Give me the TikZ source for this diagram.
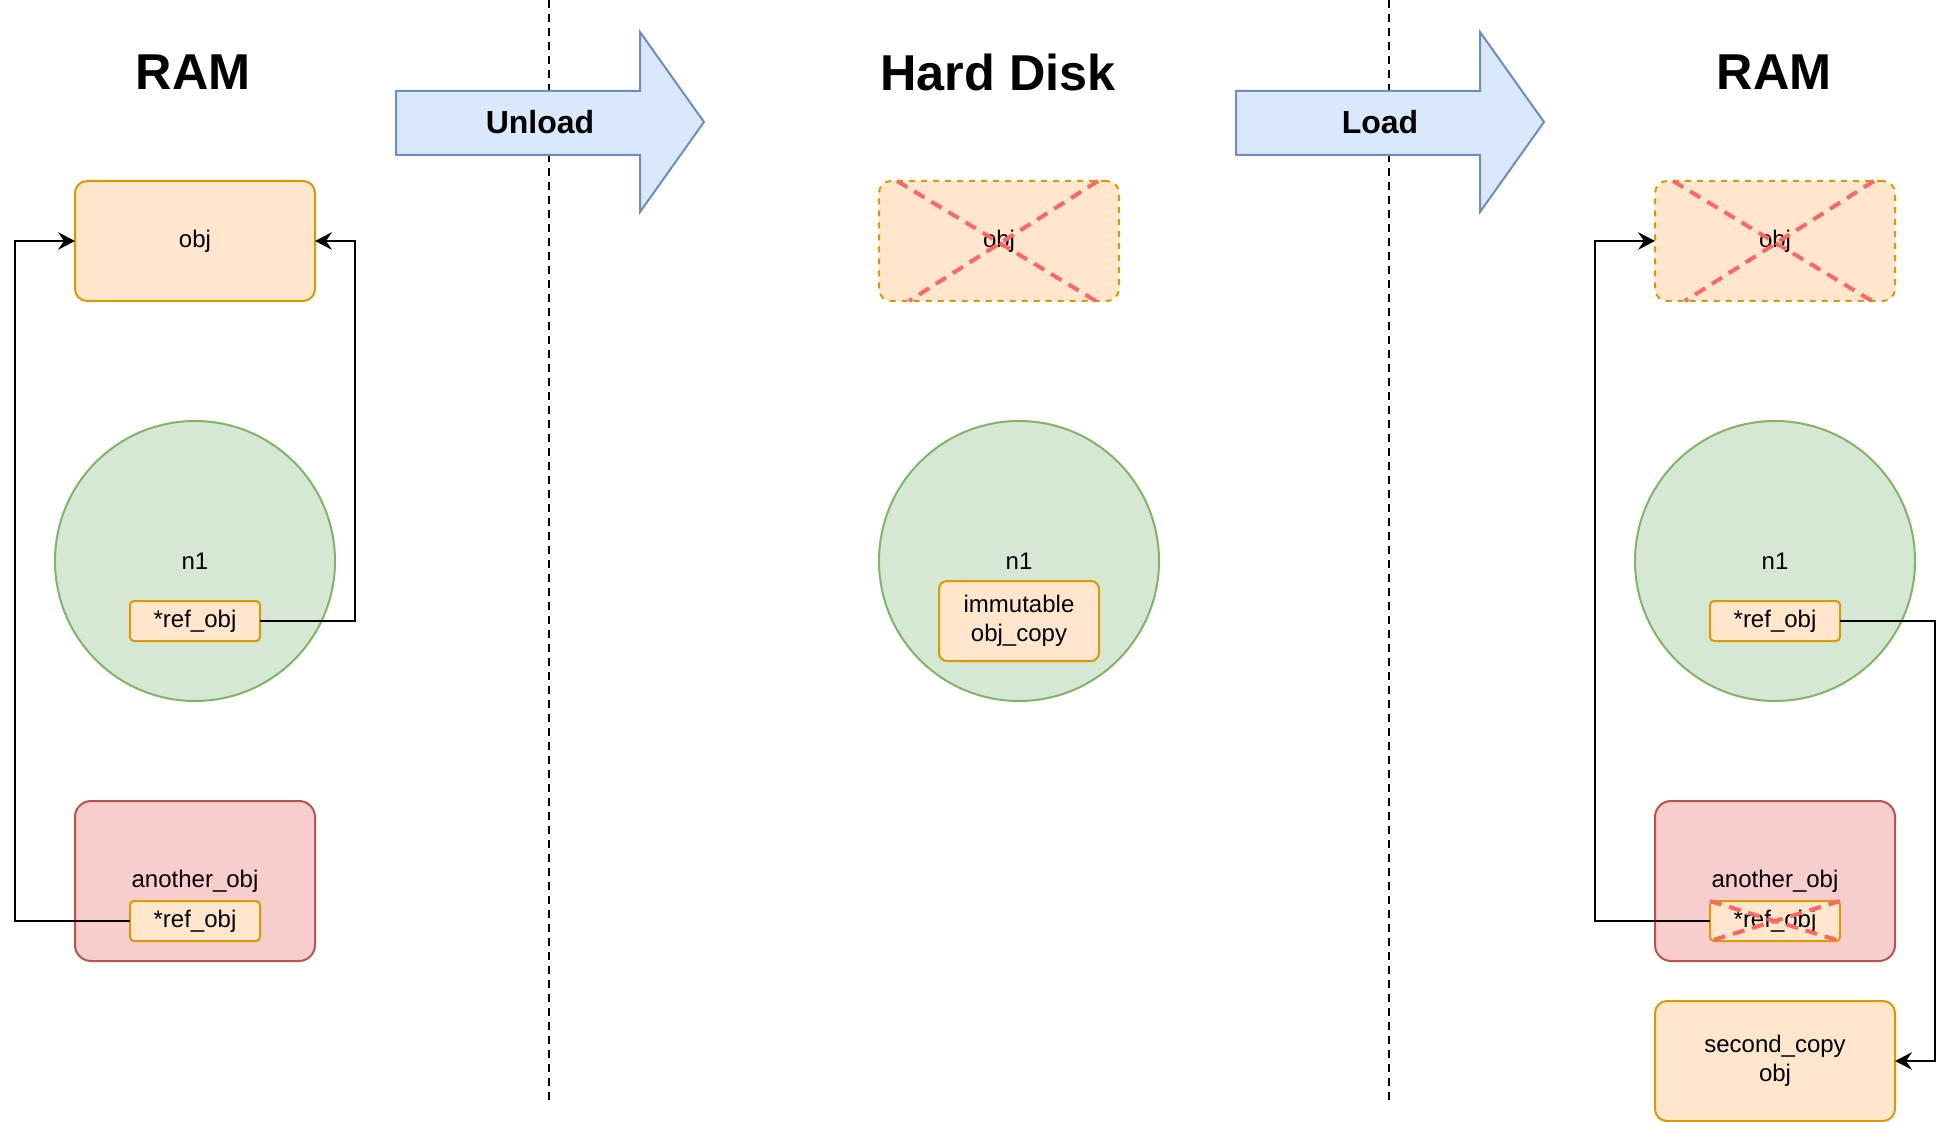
\documentclass[tikz,border=0pt]{standalone}
\usepackage{fontspec}
\setmainfont{Liberation Sans}
\usetikzlibrary{calc,arrows.meta}
\definecolor{ofill}{HTML}{FFE6CC}
\definecolor{ostroke}{HTML}{D79B00}
\definecolor{gfill}{HTML}{D5E8D4}
\definecolor{gstroke}{HTML}{82B366}
\definecolor{rfill}{HTML}{F8CECC}
\definecolor{rstroke}{HTML}{B85450}
\definecolor{bfill}{HTML}{DAE8FC}
\definecolor{bstroke}{HTML}{6C8EBF}
\definecolor{xred}{HTML}{FF6666}
\begin{document}
\begin{tikzpicture}[x=1pt,y=-1pt,
  lbl/.style={font=\fontsize{12}{14.4}\selectfont},
  box/.style={draw, line width=1pt, inner sep=0pt, outer sep=0pt, align=center, lbl},
  obox/.style={box, draw=ostroke, fill=ofill},
  rbox/.style={box, draw=rstroke, fill=rfill},
  bigbox/.style={minimum width=120pt, minimum height=60pt, rounded corners=6pt},
  tallbox/.style={minimum width=120pt, minimum height=80pt, rounded corners=8pt},
  refbox/.style={minimum width=65pt, minimum height=20pt, rounded corners=2pt},
  gone/.style={dash pattern=on 3pt off 3pt},
  circ/.style={circle, draw=gstroke, fill=gfill, line width=1pt, minimum size=140pt, inner sep=0pt, outer sep=0pt, lbl},
  title/.style={font=\fontsize{25.2}{30}\selectfont\bfseries},
  afont/.style={font=\fontsize{16}{19}\selectfont\bfseries},
  blk/.style={draw=bstroke, fill=bfill, line width=1pt, line join=miter},
  sep/.style={line width=1pt, dash pattern=on 4pt off 3pt},
  xline/.style={draw=xred, line width=2pt, dash pattern=on 6pt off 4pt},
  conn/.style={line width=1pt, -{Stealth[length=8.5pt,width=8.8pt,inset=3pt]}}
]
\useasboundingbox (0,0) rectangle (976,561);

% separators
\draw[sep] (274.5,0) -- (274.5,550);
\draw[sep] (694.5,0) -- (694.5,550);

% titles
\node[title] (t1) at (96.5,36) {RAM};
\node[title] (t2) at (499,36) {Hard Disk};
\node[title] (t3) at (887,36) {RAM};

% big arrows
\draw[blk] (198,45.5) -- (320,45.5) -- (320,16) -- (352,61) -- (320,106) -- (320,77.5) -- (198,77.5) -- cycle;
\node[afont] (unl) at (270,61) {Unload};
\draw[blk] (618,45.5) -- (740,45.5) -- (740,16) -- (772,61) -- (740,106) -- (740,77.5) -- (618,77.5) -- cycle;
\node[afont] (ld) at (690,61) {Load};

% left column
\node[obox, bigbox] (lobj) at (97.5,120.5) {obj};
\node[circ] (ln1) at (97.5,280.5) {n1};
\node[obox, refbox] (lnref) at (97.5,310.5) {*ref\_obj};
\node[rbox, tallbox] (lano) at (97.5,440.5) {another\_obj};
\node[obox, refbox] (laref) at (97.5,460.5) {*ref\_obj};
\draw[conn] (laref.west) -- ++(-57.5,0) |- (lobj.west);
\draw[conn] (lnref.east) -- ++(47.5,0) |- (lobj.east);

% middle column
\node[obox, bigbox, gone] (mobj) at (499.5,120.5) {obj};
\draw[xline] ($(mobj.north west)+(9,0)$) -- ($(mobj.south west)+(108.5,0)$);
\draw[xline] ($(mobj.north west)+(109.5,0)$) -- ($(mobj.south west)+(15,0)$);
\node[circ] (mn1) at (509.5,280.5) {n1};
\node[obox, minimum width=80pt, minimum height=40pt, rounded corners=4pt] (mimm) at (509.5,310.5) {immutable\\obj\_copy};

% right column
\node[obox, bigbox, gone] (robj) at (887.5,120.5) {obj};
\draw[xline] ($(robj.north west)+(9,0)$) -- ($(robj.south west)+(108.5,0)$);
\draw[xline] ($(robj.north west)+(109.5,0)$) -- ($(robj.south west)+(15,0)$);
\node[circ] (rn1) at (887.5,280.5) {n1};
\node[obox, refbox] (rnref) at (887.5,310.5) {*ref\_obj};
\node[rbox, tallbox] (rano) at (887.5,440.5) {another\_obj};
\node[obox, refbox] (raref) at (887.5,460.5) {*ref\_obj};
\node[obox, bigbox] (rsec) at (887.5,530.5) {second\_copy\\obj};
\draw[conn] (raref.west) -- ++(-57.5,0) |- (robj.west);
\draw[conn] (rnref.east) -- ++(47.5,0) |- (rsec.east);
\draw[xline] (raref.north west) -- (raref.south east);
\draw[xline] (raref.north east) -- (raref.south west);
\end{tikzpicture}
\end{document}
